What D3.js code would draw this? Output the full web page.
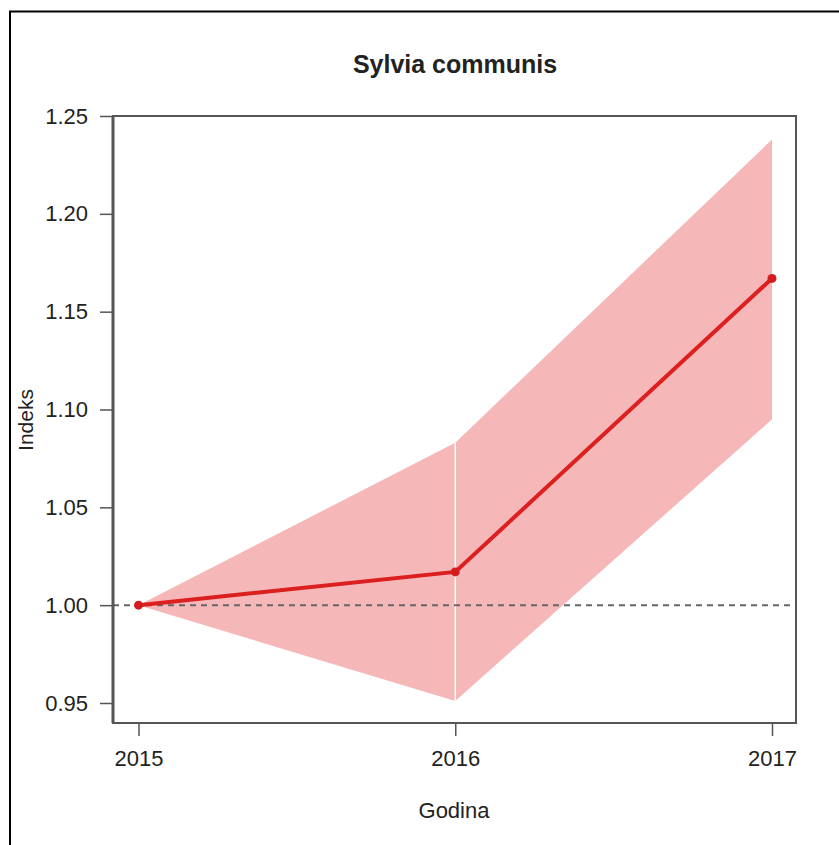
<!DOCTYPE html>
<html><head><meta charset="utf-8">
<script src="https://cdn.jsdelivr.net/npm/d3@7"></script>
<style>body{margin:0;background:#fff}svg{display:block}text{font-family:"Liberation Sans",Arial,sans-serif;fill:#222}</style>
</head><body>
<script>
const title = "Sylvia communis";
const xLabel = "Godina";
const yLabel = "Indeks";
const years = [2015, 2016, 2017];
const indexValues = [1.000, 1.017, 1.167];
const lowerValues = [1.000, 0.951, 1.095];
const upperValues = [1.000, 1.083, 1.238];
const yTicks = [0.95, 1.00, 1.05, 1.10, 1.15, 1.20, 1.25];
const xTicks = [2015, 2016, 2017];
const refValue = 1.0;

const W = 839, H = 845;
const svg = d3.select("body").append("svg").attr("width", W).attr("height", H);
const box = {l: 113, r: 796, t: 116, b: 723};
const x = d3.scaleLinear().domain([2015, 2017]).range([138.5, 772]);
const y = d3.scaleLinear().domain([0.95, 1.25]).range([703, 116]);

// outer frame
svg.append("rect").attr("x", 10).attr("y", 11.5).attr("width", 900).attr("height", 900)
  .attr("fill", "none").attr("stroke", "#000").attr("stroke-width", 2);

const data = years.map((yr, i) => ({yr, v: indexValues[i], lo: lowerValues[i], hi: upperValues[i]}));
const area = d3.area().x(d => x(d.yr)).y0(d => y(d.lo)).y1(d => y(d.hi));
for (let i = 0; i < data.length - 1; i++) {
  svg.append("path").attr("d", area([data[i], data[i+1]])).attr("fill", "#f5b7b8");
}
// white separators at interior years
for (let i = 1; i < data.length - 1; i++) {
  svg.append("line").attr("x1", x(data[i].yr)).attr("x2", x(data[i].yr))
    .attr("y1", y(data[i].hi)).attr("y2", y(data[i].lo))
    .attr("stroke", "#fff").attr("stroke-width", 1.5);
}
// reference dashed line
svg.append("line").attr("x1", box.l).attr("x2", box.r).attr("y1", y(refValue)).attr("y2", y(refValue))
  .attr("stroke", "#666").attr("stroke-width", 2).attr("stroke-dasharray", "6,5");

// index line
svg.append("path").attr("d", d3.line().x(d => x(d.yr)).y(d => y(d.v))(data))
  .attr("fill", "none").attr("stroke", "#dc1f1f").attr("stroke-width", 4);
svg.selectAll("circle.pt").data(data).enter().append("circle")
  .attr("cx", d => x(d.yr)).attr("cy", d => y(d.v)).attr("r", 4.5).attr("fill", "#d41c1c");

// plot box
svg.append("rect").attr("x", box.l).attr("y", box.t).attr("width", box.r - box.l).attr("height", box.b - box.t)
  .attr("fill", "none").attr("stroke", "#555").attr("stroke-width", 2);

// y axis
const yAxis = d3.axisLeft(y).tickValues(yTicks).tickFormat(d3.format(".2f")).tickSize(13).tickPadding(12);
const gy = svg.append("g").attr("transform", `translate(${box.l},0)`).call(yAxis);
gy.select(".domain").attr("stroke", "#555").attr("stroke-width", 3).attr("d", `M0,${box.t}V${box.b}`);
gy.selectAll(".tick line").attr("stroke", "#555").attr("stroke-width", 1.5);
gy.selectAll(".tick text").attr("font-size", 22).attr("fill", "#222").attr("font-family", '"Liberation Sans",Arial,sans-serif');

// x axis
const xAxis = d3.axisBottom(x).tickValues(xTicks).tickFormat(d3.format("d")).tickSize(13).tickPadding(14);
const gx = svg.append("g").attr("transform", `translate(0,${box.b})`).call(xAxis);
gx.select(".domain").remove();
gx.selectAll(".tick line").attr("stroke", "#555").attr("stroke-width", 1.5);
gx.selectAll(".tick text").attr("font-size", 22).attr("fill", "#222").attr("font-family", '"Liberation Sans",Arial,sans-serif');

// titles
svg.append("text").attr("x", 455).attr("y", 73).attr("text-anchor", "middle")
  .attr("font-size", 25).attr("font-weight", "bold").text(title);
svg.append("text").attr("x", 454).attr("y", 818).attr("text-anchor", "middle")
  .attr("font-size", 22).text(xLabel);
svg.append("text").attr("transform", "translate(33,420) rotate(-90)").attr("text-anchor", "middle")
  .attr("font-size", 21).text(yLabel);
</script>
</body></html>
